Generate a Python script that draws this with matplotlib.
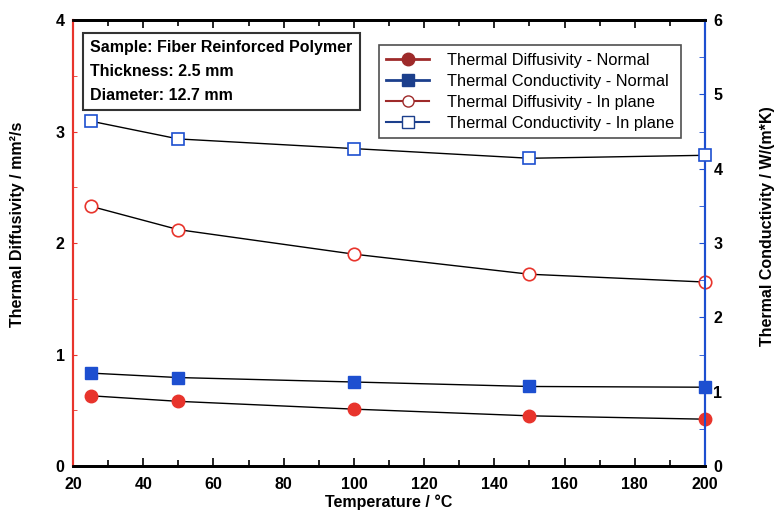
import matplotlib
matplotlib.use("Agg")
import matplotlib.pyplot as plt
from matplotlib.lines import Line2D
from matplotlib.ticker import MultipleLocator

plt.rcParams['font.family'] = ['Liberation Sans', 'DejaVu Sans']

# Data
temperature = [25, 50, 100, 150, 200]
diff_normal = [0.63, 0.58, 0.51, 0.45, 0.42]
cond_normal = [1.25, 1.19, 1.13, 1.07, 1.06]
diff_inplane = [2.33, 2.12, 1.90, 1.72, 1.65]
cond_inplane = [4.64, 4.40, 4.27, 4.14, 4.18]

legend_labels = [
    "Thermal Diffusivity - Normal",
    "Thermal Conductivity - Normal",
    "Thermal Diffusivity - In plane",
    "Thermal Conductivity - In plane",
]

red = "#e8342c"
blue = "#1d4fd0"
dark_red = "#9e2a2a"
dark_blue = "#1c3f8c"

fig = plt.figure(figsize=(7.75, 5.13), dpi=100)
ax = fig.add_axes([0.0942, 0.0916, 0.8155, 0.8694])
ax2 = ax.twinx()

# left axis: diffusivity
ax.plot(temperature, diff_normal, color="black", lw=1, marker="o", ms=9,
        mfc=red, mec=red, clip_on=False, zorder=3)
ax.plot(temperature, diff_inplane, color="black", lw=1, marker="o", ms=9,
        mfc="white", mec=red, mew=1.2, clip_on=False, zorder=3)

# right axis: conductivity
ax2.plot(temperature, cond_normal, color="black", lw=1, marker="s", ms=9,
         mfc=blue, mec=blue, clip_on=False, zorder=3)
ax2.plot(temperature, cond_inplane, color="black", lw=1, marker="s", ms=9,
         mfc="white", mec=blue, mew=1.2, clip_on=False, zorder=3)

ax.set_xlim(20, 200)
ax.set_ylim(0, 4)
ax2.set_ylim(0, 6)

ax.xaxis.set_major_locator(MultipleLocator(20))
ax.xaxis.set_minor_locator(MultipleLocator(10))
ax.yaxis.set_major_locator(MultipleLocator(1))
ax.yaxis.set_minor_locator(MultipleLocator(0.5))
ax2.yaxis.set_major_locator(MultipleLocator(1))
ax2.yaxis.set_minor_locator(MultipleLocator(0.5))

ax.tick_params(axis="x", which="both", direction="in", top=True, labelsize=11.5,
               pad=8, width=1.2)
ax.tick_params(axis="x", which="major", length=6)
ax.tick_params(axis="x", which="minor", length=4)
ax.tick_params(axis="y", which="both", direction="in", colors=red, labelcolor="black",
               labelsize=11.5, length=3, pad=6)
ax2.tick_params(axis="y", which="both", direction="in", colors=blue, labelcolor="black",
                labelsize=11.5, length=4, pad=6)

for t in ax.get_xticklabels() + ax.get_yticklabels() + ax2.get_yticklabels():
    t.set_fontweight("bold")

for a in (ax, ax2):
    a.spines["top"].set_linewidth(2)
    a.spines["bottom"].set_linewidth(2)
    a.spines["left"].set_color(red)
    a.spines["left"].set_linewidth(1.5)
    a.spines["right"].set_color(blue)
    a.spines["right"].set_linewidth(1.5)

ax.set_xlabel("Temperature / °C", fontsize=11.5, fontweight="bold", labelpad=2)
ax.set_ylabel("Thermal Diffusivity / mm²/s", fontsize=11.5, fontweight="bold",
              labelpad=22)
ax.yaxis.label.set_y(0.543)
ax2.set_ylabel("Thermal Conductivity / W/(m*K)", fontsize=11.5, fontweight="bold",
               labelpad=27)
ax2.yaxis.label.set_y(0.538)

# sample info box
ax.text(0.027, 0.955,
        "Sample: Fiber Reinforced Polymer\nThickness: 2.5 mm\nDiameter: 12.7 mm",
        transform=ax.transAxes, ha="left", va="top", fontsize=11.5,
        fontweight="bold", linespacing=1.75, zorder=5,
        bbox=dict(boxstyle="square,pad=0.45", fc="white", ec="#333333", lw=1.5))

handles = [
    Line2D([], [], color=dark_red, lw=2, marker="o", ms=9, mfc=dark_red, mec=dark_red),
    Line2D([], [], color=dark_blue, lw=2, marker="s", ms=8, mfc=dark_blue, mec=dark_blue),
    Line2D([], [], color=dark_red, lw=1.5, marker="o", ms=8, mfc="white", mec=dark_red),
    Line2D([], [], color=dark_blue, lw=1.5, marker="s", ms=8, mfc="white", mec=dark_blue),
]
leg = ax2.legend(handles, legend_labels, loc="upper left",
                 bbox_to_anchor=(0.484, 0.943), fontsize=11.8, frameon=True,
                 fancybox=False, edgecolor="#222222", borderpad=0.45,
                 labelspacing=0.36, handlelength=2.6, handletextpad=1.1,
                 borderaxespad=0)
leg.get_frame().set_linewidth(1.2)
leg.set_zorder(6)

fig.savefig("out.png", dpi=100)
